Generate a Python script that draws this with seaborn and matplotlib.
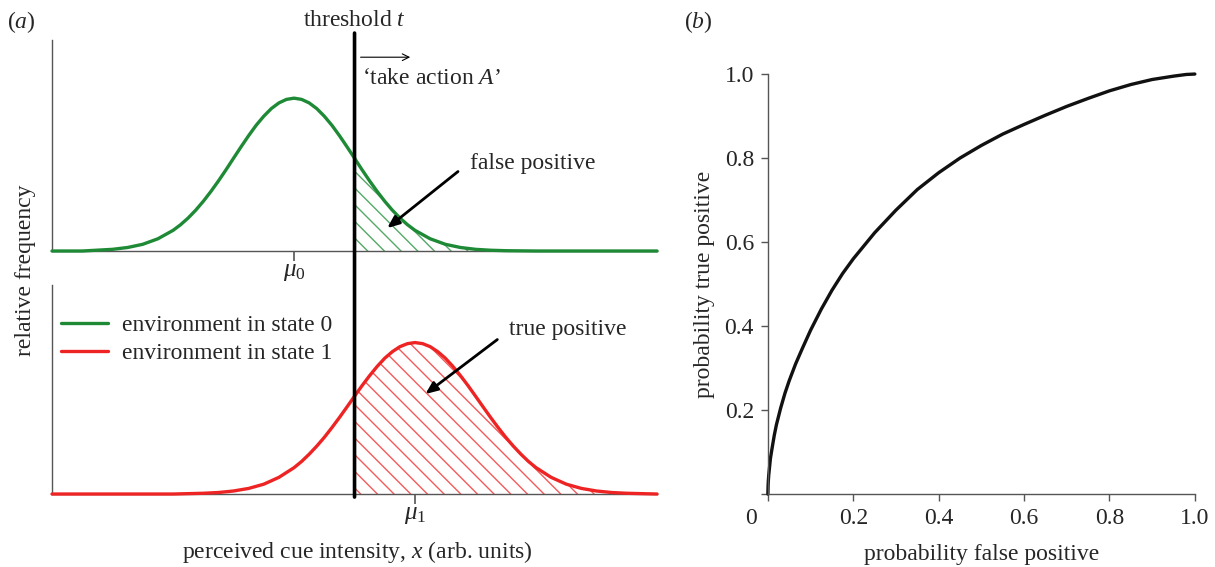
import matplotlib
matplotlib.use("Agg")
import matplotlib.pyplot as plt
import matplotlib.transforms as mtransforms
import seaborn as sns
import pandas as pd
from matplotlib.patches import ConnectionPatch

# ---------------- data ----------------
cue_x0 = [0.0, 0.5, 1.0, 1.25, 1.5, 1.75, 2.0, 2.125, 2.25, 2.375, 2.5, 2.625, 2.75,
          2.875, 3.0, 3.125, 3.25, 3.375, 3.5, 3.625, 3.75, 3.875, 4.0, 4.125, 4.25,
          4.375, 4.5, 4.625, 4.75, 4.875, 5.0, 5.125, 5.25, 5.375, 5.5, 5.625, 5.75,
          5.875, 6.0, 6.25, 6.5, 6.75, 7.0, 7.25, 7.5, 8.0, 9.0, 10.0]
freq_state0 = [0.0, 0.0, 0.011, 0.023, 0.044, 0.080, 0.135, 0.172, 0.216, 0.267, 0.325,
               0.389, 0.458, 0.531, 0.607, 0.682, 0.755, 0.823, 0.882, 0.932, 0.969,
               0.992, 1.0, 0.992, 0.969, 0.932, 0.882, 0.823, 0.755, 0.682, 0.607,
               0.531, 0.458, 0.389, 0.325, 0.267, 0.216, 0.172, 0.135, 0.080, 0.044,
               0.023, 0.011, 0.005, 0.002, 0.0, 0.0, 0.0]

cue_x1 = [0.0, 2.0, 2.5, 2.75, 3.0, 3.25, 3.5, 3.75, 4.0, 4.125, 4.25, 4.375, 4.5,
          4.625, 4.75, 4.875, 5.0, 5.125, 5.25, 5.375, 5.5, 5.625, 5.75, 5.875, 6.0,
          6.125, 6.25, 6.375, 6.5, 6.625, 6.75, 6.875, 7.0, 7.125, 7.25, 7.375, 7.5,
          7.625, 7.75, 7.875, 8.0, 8.25, 8.5, 8.75, 9.0, 9.25, 9.5, 10.0]
freq_state1 = [0.0, 0.0, 0.005, 0.010, 0.020, 0.037, 0.065, 0.110, 0.174, 0.215, 0.263,
               0.316, 0.374, 0.438, 0.505, 0.575, 0.646, 0.716, 0.782, 0.843, 0.897,
               0.940, 0.973, 0.993, 1.0, 0.993, 0.973, 0.940, 0.897, 0.843, 0.782,
               0.716, 0.646, 0.575, 0.505, 0.438, 0.374, 0.316, 0.263, 0.215, 0.174,
               0.110, 0.065, 0.037, 0.020, 0.010, 0.005, 0.0]

mu0 = 4.0
mu1 = 6.0
threshold = 5.0

roc_fpr = [0.0, 0.0005, 0.001, 0.002, 0.004, 0.006, 0.01, 0.015, 0.02, 0.03, 0.04,
           0.05, 0.065, 0.08, 0.1, 0.125, 0.15, 0.175, 0.2, 0.25, 0.3, 0.35, 0.4,
           0.45, 0.5, 0.55, 0.6, 0.65, 0.7, 0.75, 0.8, 0.85, 0.9, 0.95, 0.98, 1.0]
roc_tpr = [0.0, 0.02, 0.03, 0.045, 0.065, 0.085, 0.11, 0.14, 0.165, 0.205, 0.24,
           0.27, 0.31, 0.345, 0.39, 0.44, 0.485, 0.525, 0.56, 0.622, 0.676, 0.725,
           0.765, 0.8, 0.83, 0.857, 0.88, 0.902, 0.923, 0.942, 0.96, 0.975, 0.987,
           0.995, 0.999, 1.0]
roc_ticks = [0.0, 0.2, 0.4, 0.6, 0.8, 1.0]
roc_xticklabels = ["0", "0.2", "0.4", "0.6", "0.8", "1.0"]
roc_yticklabels = ["", "0.2", "0.4", "0.6", "0.8", "1.0"]

labels_state = ["environment in state 0", "environment in state 1"]

# ---------------- style ----------------
sns.set_theme(style="white")
plt.rcParams["font.family"] = ["Liberation Serif", "DejaVu Serif"]
plt.rcParams["mathtext.fontset"] = "custom"
plt.rcParams["mathtext.rm"] = "Liberation Serif"
plt.rcParams["mathtext.it"] = "Liberation Serif:italic"
plt.rcParams["hatch.linewidth"] = 1.0

GREEN = "#1e8a36"
RED = "#ee2424"
AXC = "#555555"
FS = 17

fig = plt.figure(figsize=(12.15, 5.67), dpi=100)
ax_top = fig.add_axes([0.0428, 0.5573, 0.498, 0.372])
ax_bot = fig.add_axes([0.0428, 0.1287, 0.498, 0.3686])
ax_roc = fig.add_axes([0.632, 0.1287, 0.3514, 0.7407])

df0 = pd.DataFrame({"x": cue_x0, "y": freq_state0})
df1 = pd.DataFrame({"x": cue_x1, "y": freq_state1})

# hatched regions beyond threshold
ax_top.fill_between(df0["x"], 0, df0["y"], where=df0["x"] >= threshold,
                    facecolor="none", edgecolor=GREEN, hatch="\\\\", linewidth=0,
                    alpha=0.75, zorder=1)
ax_bot.fill_between(df1["x"], 0, df1["y"], where=df1["x"] >= threshold,
                    facecolor="none", edgecolor=RED, hatch="\\\\", linewidth=0,
                    alpha=0.75, zorder=1)

sns.lineplot(data=df0, x="x", y="y", ax=ax_top, color=GREEN, lw=2.4,
             sort=False, estimator=None, zorder=3)
sns.lineplot(data=df1, x="x", y="y", ax=ax_bot, color=RED, lw=2.4,
             sort=False, estimator=None, zorder=3)
line0 = ax_top.lines[0]
line1 = ax_bot.lines[0]
line0.set_clip_on(False)
line1.set_clip_on(False)

for ax, mu, lab in [(ax_top, mu0, r"$\mu_0$"), (ax_bot, mu1, r"$\mu_1$")]:
    ax.set_xlim(0, 10)
    ax.set_ylim(0, 1.38)
    for s in ["top", "right"]:
        ax.spines[s].set_visible(False)
    for s in ["left", "bottom"]:
        ax.spines[s].set_color(AXC)
        ax.spines[s].set_linewidth(1.0)
    ax.set_yticks([])
    ax.set_xticks([mu])
    ax.set_xticklabels([lab], fontsize=18)
    ax.tick_params(axis="x", bottom=True, direction="out", length=7, width=1.2,
                   color=AXC, pad=0)
    ax.set_xlabel("")
    ax.set_ylabel("")

ax_bot.set_xlabel(r"perceived cue intensity, $x$ (arb. units)", fontsize=FS)
ax_bot.xaxis.set_label_coords(0.505, -0.215)

# threshold line spanning both panels
con = ConnectionPatch(xyA=(threshold, 1.426), coordsA=ax_top.transData,
                      xyB=(threshold, -0.02), coordsB=ax_bot.transData,
                      color="black", lw=2.6)
fig.add_artist(con)

ax_top.text(threshold, 1.51, r"threshold $t$", ha="center", va="center",
            fontsize=FS, clip_on=False)
ax_top.annotate("", xy=(5.92, 1.268), xytext=(5.1, 1.268),
                arrowprops=dict(arrowstyle="->", lw=0.8, color="black",
                                shrinkA=0, shrinkB=0), annotation_clip=False)
ax_top.text(5.12, 1.13, "\u2018take action $A$\u2019", ha="left", va="center",
            fontsize=FS)

arrow_kw = dict(arrowstyle="-|>,head_length=0.6,head_width=0.25", lw=2.0,
                color="black", shrinkA=0, shrinkB=0)
ax_top.text(7.95, 0.575, "false positive", ha="center", va="center", fontsize=FS)
ax_top.annotate("", xy=(5.54, 0.15), xytext=(6.71, 0.52), arrowprops=arrow_kw)
ax_bot.text(8.52, 1.085, "true positive", ha="center", va="center", fontsize=FS)
ax_bot.annotate("", xy=(6.17, 0.66), xytext=(7.36, 1.02), arrowprops=arrow_kw)

ax_bot.legend([line0, line1], labels_state, loc="upper left",
              bbox_to_anchor=(0.015, 0.857), frameon=False, fontsize=FS,
              handlelength=2.0, handletextpad=0.6, labelspacing=0.25,
              borderpad=0, borderaxespad=0)

fig.text(0.021, 0.523, "relative frequency", rotation=90, ha="center",
         va="center", fontsize=FS)
fig.text(0.006, 0.961, "($a$)", fontsize=FS, ha="left", va="center")
fig.text(0.563, 0.961, "($b$)", fontsize=FS, ha="left", va="center")

# ROC panel
dfr = pd.DataFrame({"fpr": roc_fpr, "tpr": roc_tpr})
sns.lineplot(data=dfr, x="fpr", y="tpr", ax=ax_roc, color="#111111", lw=2.4,
             sort=False, estimator=None)
ax_roc.lines[0].set_clip_on(False)
ax_roc.set_xlim(0, 1)
ax_roc.set_ylim(0, 1)
for s in ["top", "right"]:
    ax_roc.spines[s].set_visible(False)
for s in ["left", "bottom"]:
    ax_roc.spines[s].set_color(AXC)
    ax_roc.spines[s].set_linewidth(1.0)
ax_roc.set_xticks(roc_ticks)
ax_roc.set_xticklabels(roc_xticklabels, fontsize=FS)
ax_roc.set_yticks(roc_ticks)
ax_roc.set_yticklabels(roc_yticklabels, fontsize=FS)
ax_roc.tick_params(axis="both", bottom=True, left=True, direction="out",
                   length=5, width=1.0, color=AXC, pad=5)
ax_roc.set_xlabel("probability false positive", fontsize=FS)
ax_roc.set_ylabel("probability true positive", fontsize=FS)
ax_roc.xaxis.set_label_coords(0.5, -0.118)
ax_roc.yaxis.set_label_coords(-0.125, 0.5)

# shift the "0" x tick label slightly left, as in the reference
lbl0 = ax_roc.get_xticklabels()[0]
lbl0.set_transform(lbl0.get_transform() +
                   mtransforms.ScaledTranslation(-0.17, 0, fig.dpi_scale_trans))

fig.savefig("out.png", dpi=100)
